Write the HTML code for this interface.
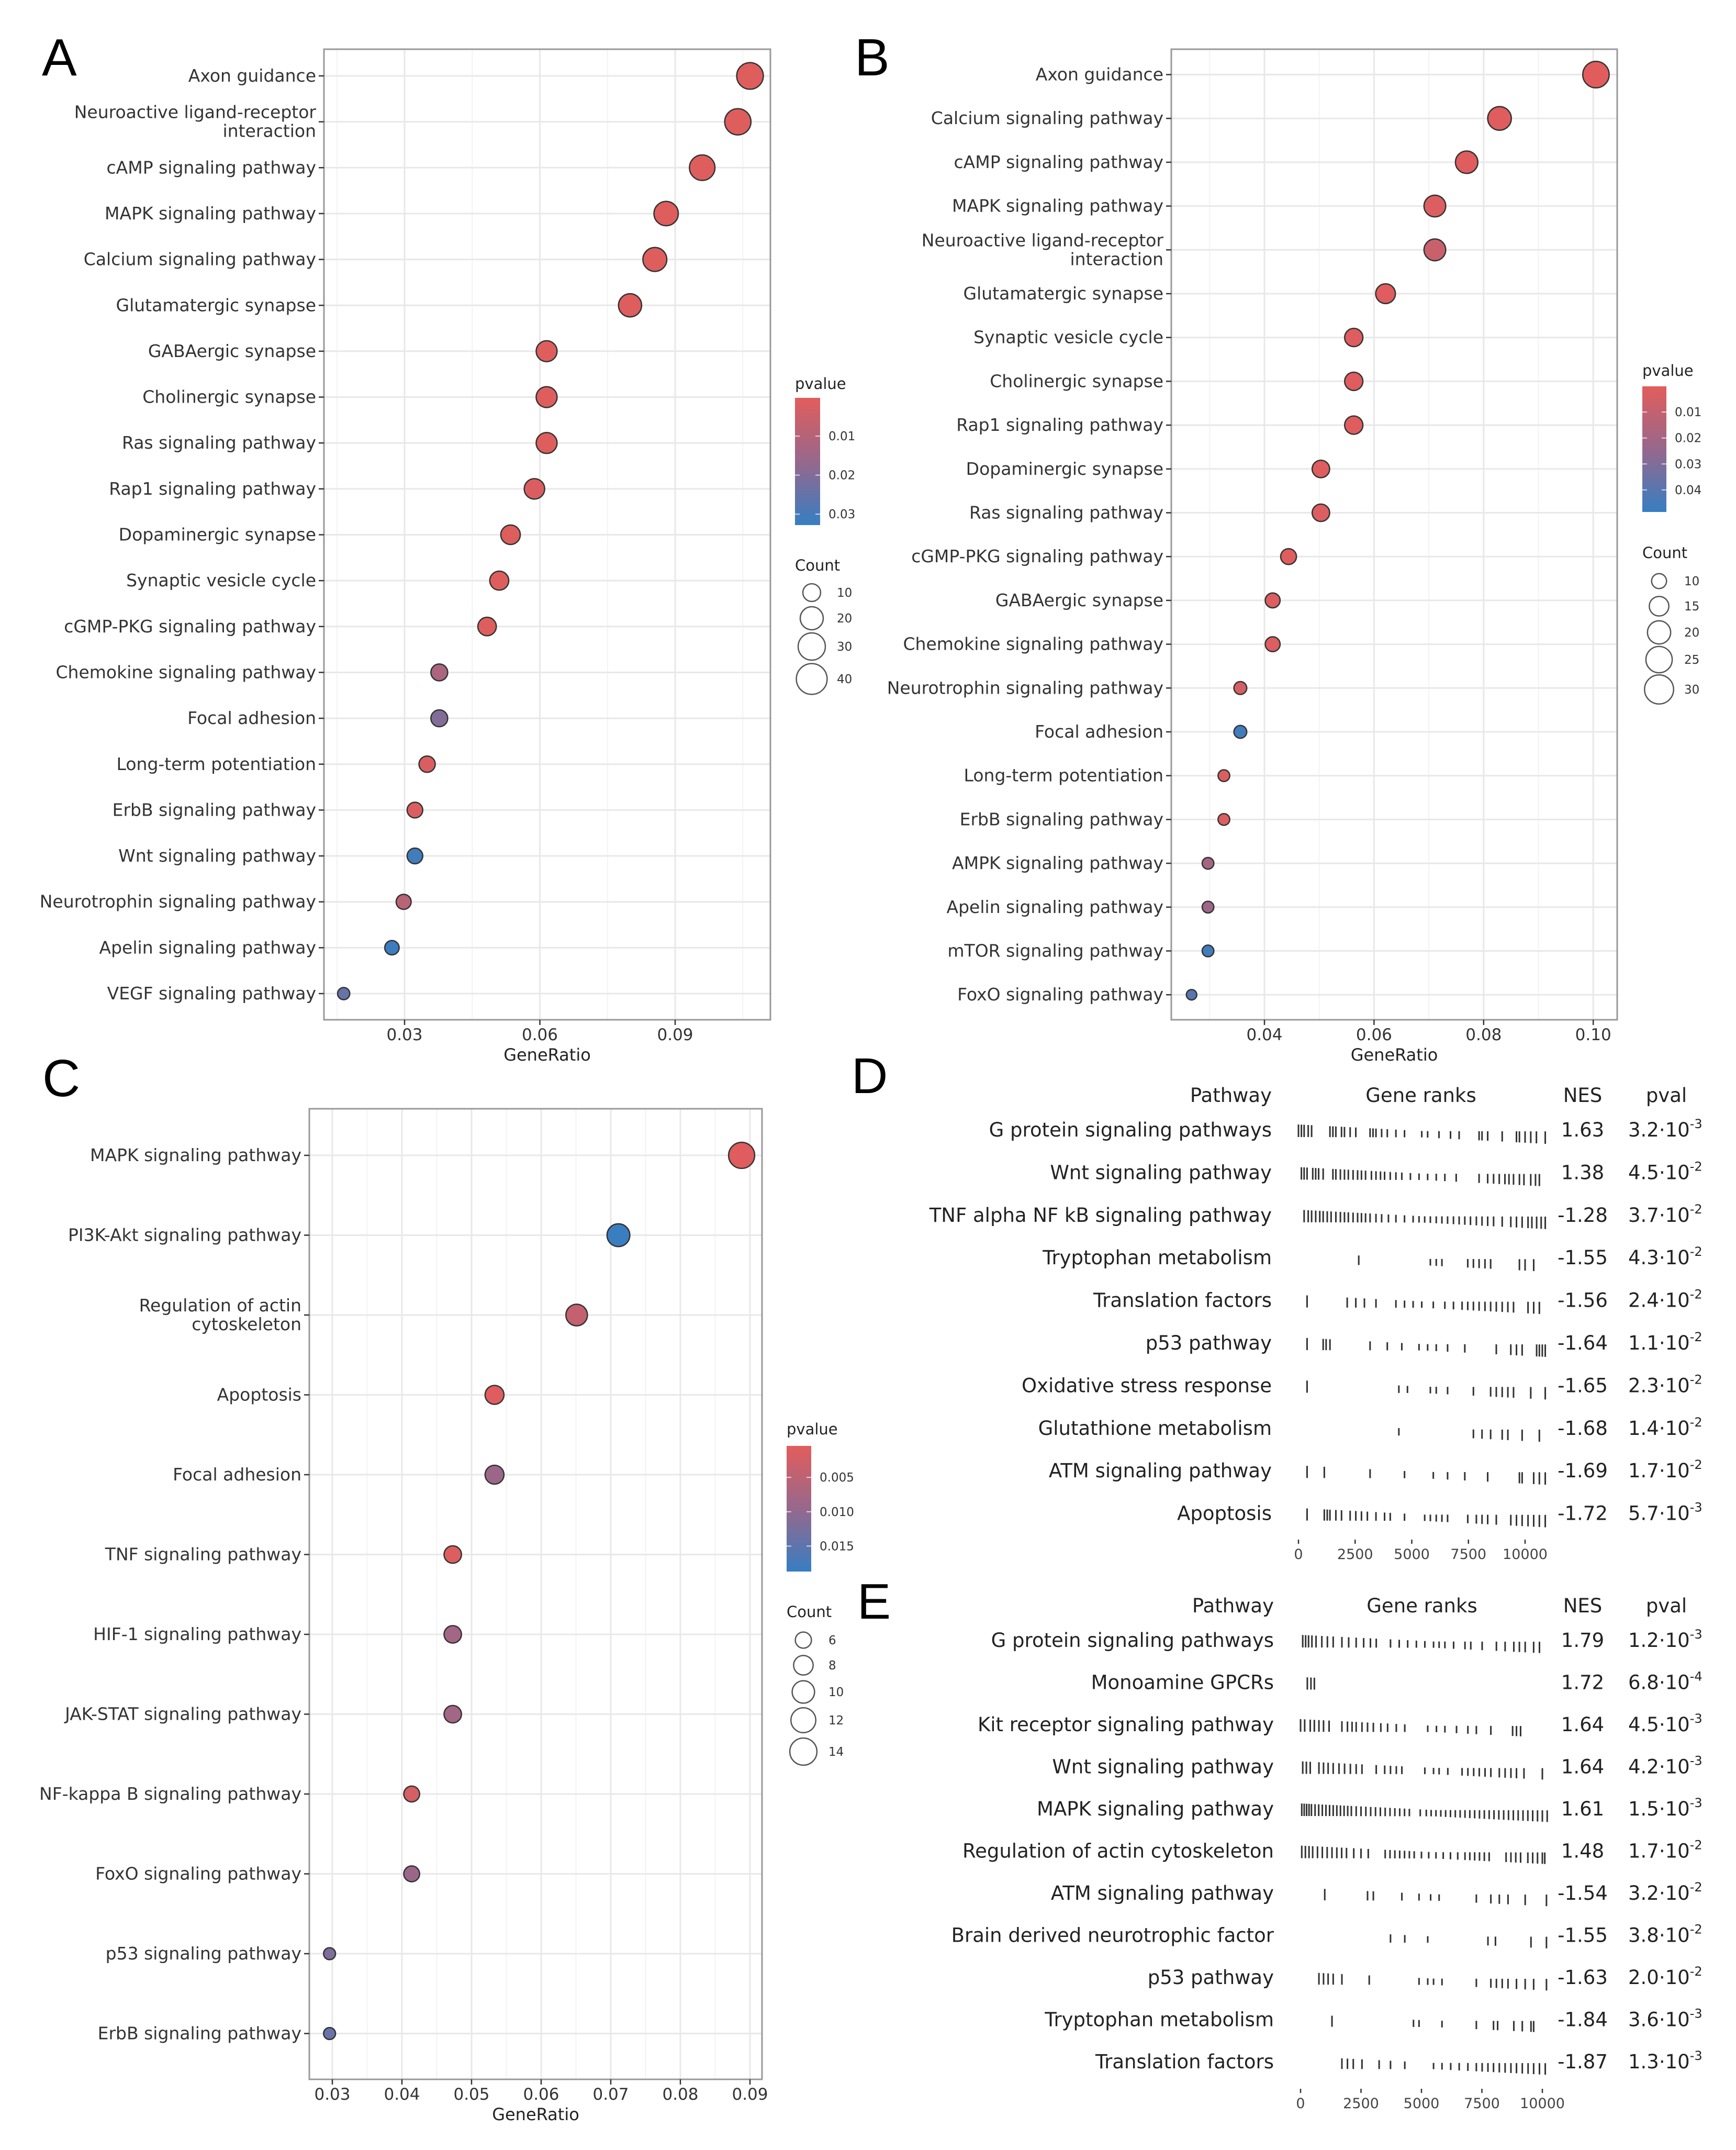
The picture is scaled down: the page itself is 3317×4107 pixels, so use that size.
<!DOCTYPE html>
<html><head><meta charset="utf-8">
<style>
html,body{margin:0;padding:0;background:#fff;}
svg{display:block;}
text{font-family:"DejaVu Sans","Liberation Sans",sans-serif;}
</style></head>
<body>
<svg id="fig" xmlns="http://www.w3.org/2000/svg" width="3317" height="4107" viewBox="0 0 3317 4107">
<rect x="0" y="0" width="3317" height="4107" fill="#fff"/>
<defs>
<linearGradient id="pgrad" x1="0" y1="0" x2="0" y2="1">
<stop offset="0" stop-color="rgb(226,93,92)"/>
<stop offset="0.5" stop-color="rgb(150,104,140)"/>
<stop offset="1" stop-color="rgb(55,126,194)"/>
</linearGradient>
</defs>
<text x="80" y="144" font-size="100" style="font-family:'Liberation Sans',sans-serif">A</text>
<text x="1633" y="144" font-size="100" style="font-family:'Liberation Sans',sans-serif">B</text>
<text x="81" y="2094" font-size="100" style="font-family:'Liberation Sans',sans-serif">C</text>
<text x="1627" y="2088" font-size="96" style="font-family:'Liberation Sans',sans-serif">D</text>
<text x="1638" y="3092" font-size="96" style="font-family:'Liberation Sans',sans-serif">E</text>
</svg>
<script>
// ---------- Panel A data ----------
const A_terms = ["Axon guidance","Neuroactive ligand-receptor\ninteraction","cAMP signaling pathway","MAPK signaling pathway","Calcium signaling pathway","Glutamatergic synapse","GABAergic synapse","Cholinergic synapse","Ras signaling pathway","Rap1 signaling pathway","Dopaminergic synapse","Synaptic vesicle cycle","cGMP-PKG signaling pathway","Chemokine signaling pathway","Focal adhesion","Long-term potentiation","ErbB signaling pathway","Wnt signaling pathway","Neurotrophin signaling pathway","Apelin signaling pathway","VEGF signaling pathway"];
const A_ratio = [0.1066,0.1039,0.0960,0.0880,0.0855,0.0800,0.0615,0.0615,0.0615,0.0588,0.0535,0.0510,0.0483,0.0377,0.0377,0.0350,0.0323,0.0323,0.0298,0.0272,0.0165];
const A_count = [34,33,31,28,27,25,20,20,20,19,17,16,15,12,12,11,10,10,9,8,5];
const A_p = [0.001,0.001,0.001,0.001,0.001,0.001,0.001,0.001,0.001,0.002,0.001,0.001,0.001,0.012,0.020,0.002,0.002,0.031,0.009,0.032,0.025];
const A_ticks = [0.03,0.06,0.09];
const A_tickLabels = ["0.03","0.06","0.09"];
const A_minor = [0.015,0.045,0.075,0.105];
const A_pBreaks = [0.01,0.02,0.03];
const A_pLabels = ["0.01","0.02","0.03"];
const A_cBreaks = [10,20,30,40];

// ---------- Panel B data ----------
const B_terms = ["Axon guidance","Calcium signaling pathway","cAMP signaling pathway","MAPK signaling pathway","Neuroactive ligand-receptor\ninteraction","Glutamatergic synapse","Synaptic vesicle cycle","Cholinergic synapse","Rap1 signaling pathway","Dopaminergic synapse","Ras signaling pathway","cGMP-PKG signaling pathway","GABAergic synapse","Chemokine signaling pathway","Neurotrophin signaling pathway","Focal adhesion","Long-term potentiation","ErbB signaling pathway","AMPK signaling pathway","Apelin signaling pathway","mTOR signaling pathway","FoxO signaling pathway"];
const B_ratio = [0.1005,0.0829,0.0769,0.0711,0.0711,0.0621,0.0563,0.0563,0.0563,0.0503,0.0503,0.0444,0.0415,0.0415,0.0356,0.0356,0.0326,0.0326,0.0297,0.0297,0.0297,0.0267];
const B_count = [29,24,22,21,21,18,16,16,16,15,15,13,12,12,10,10,9,9,9,9,9,8];
const B_p = [0.0005,0.001,0.001,0.002,0.008,0.001,0.001,0.001,0.001,0.001,0.002,0.001,0.002,0.002,0.004,0.046,0.002,0.002,0.020,0.022,0.046,0.040];
const B_ticks = [0.04,0.06,0.08,0.10];
const B_tickLabels = ["0.04","0.06","0.08","0.10"];
const B_minor = [0.03,0.05,0.07,0.09];
const B_pBreaks = [0.01,0.02,0.03,0.04];
const B_pLabels = ["0.01","0.02","0.03","0.04"];
const B_cBreaks = [10,15,20,25,30];

// ---------- Panel C data ----------
const C_terms = ["MAPK signaling pathway","PI3K-Akt signaling pathway","Regulation of actin\ncytoskeleton","Apoptosis","Focal adhesion","TNF signaling pathway","HIF-1 signaling pathway","JAK-STAT signaling pathway","NF-kappa B signaling pathway","FoxO signaling pathway","p53 signaling pathway","ErbB signaling pathway"];
const C_ratio = [0.0888,0.0711,0.0651,0.0533,0.0533,0.0473,0.0473,0.0473,0.0414,0.0414,0.0296,0.0296];
const C_count = [15,12,11,9,9,8,8,8,7,7,5,5];
const C_p = [0.0008,0.0185,0.004,0.0008,0.009,0.001,0.008,0.008,0.002,0.009,0.012,0.014];
const C_ticks = [0.03,0.04,0.05,0.06,0.07,0.08,0.09];
const C_tickLabels = ["0.03","0.04","0.05","0.06","0.07","0.08","0.09"];
const C_minor = [0.035,0.045,0.055,0.065,0.075,0.085];
const C_pBreaks = [0.005,0.010,0.015];
const C_pLabels = ["0.005","0.010","0.015"];
const C_cBreaks = [6,8,10,12,14];

// ---------- Panel D data ----------
const D_paths = ["G protein signaling pathways","Wnt signaling pathway","TNF alpha NF kB signaling pathway","Tryptophan metabolism","Translation factors","p53 pathway","Oxidative stress response","Glutathione metabolism","ATM signaling pathway","Apoptosis"];
const D_nes = ["1.63","1.38","-1.28","-1.55","-1.56","-1.64","-1.65","-1.68","-1.69","-1.72"];
const D_pmant = ["3.2","4.5","3.7","4.3","2.4","1.1","2.3","1.4","1.7","5.7"];
const D_pexp = ["-3","-2","-2","-2","-2","-2","-2","-2","-2","-3"];
const D_ranks = [
[0,0.13,0.25,0.43,0.58,1.39,1.52,1.65,1.9,2.03,2.28,2.53,3.16,3.29,3.42,3.67,3.92,4.3,4.68,5.44,5.7,6.2,6.71,7.09,7.97,8.1,8.35,8.99,9.62,9.75,10.0,10.25,10.5,10.89],
[0.13,0.25,0.38,0.63,0.76,0.89,1.09,1.52,1.65,1.85,2.03,2.2,2.41,2.61,2.78,2.96,3.22,3.42,3.62,3.8,4.05,4.3,4.56,4.94,5.32,5.7,6.08,6.46,6.96,7.97,8.35,8.61,8.86,9.11,9.29,9.49,9.75,9.95,10.25,10.46,10.63],
[0.25,0.43,0.58,0.76,0.94,1.09,1.27,1.44,1.65,1.85,2.03,2.2,2.41,2.61,2.78,2.96,3.16,3.42,3.67,3.97,4.3,4.68,5.06,5.32,5.57,5.82,6.08,6.33,6.58,6.84,7.09,7.34,7.59,7.85,8.1,8.35,8.61,8.99,9.37,9.62,9.87,10.13,10.3,10.51,10.71,10.89],
[2.66,5.82,6.08,6.33,7.47,7.72,7.97,8.23,8.48,9.75,10.0,10.38],
[0.38,2.15,2.53,2.91,3.42,4.3,4.68,5.06,5.44,5.95,6.46,6.84,7.22,7.47,7.72,7.97,8.23,8.48,8.73,8.99,9.24,9.49,10.13,10.38,10.63],
[0.38,1.09,1.22,1.39,3.16,3.92,4.56,5.32,5.7,6.08,6.58,7.34,8.73,9.37,9.62,9.87,10.51,10.63,10.76,10.89],
[0.38,4.43,4.81,5.82,6.08,6.58,7.72,8.48,8.73,8.99,9.24,9.49,10.25,10.89],
[4.43,7.72,8.1,8.48,8.99,9.24,9.87,10.63],
[0.38,1.14,3.16,4.68,5.95,6.58,7.34,8.35,9.75,9.87,10.38,10.63,10.89],
[0.38,1.14,1.27,1.39,1.65,1.9,2.28,2.53,2.78,3.04,3.42,3.8,4.05,4.68,5.57,5.82,6.08,6.33,6.58,7.47,7.85,8.1,8.35,8.73,9.37,9.62,9.87,10.13,10.38,10.63,10.89]
];
const D_axisTicks = [0,2.5,5,7.5,10];
const D_axisLabels = ["0","2500","5000","7500","10000"];

// ---------- Panel E data ----------
const E_paths = ["G protein signaling pathways","Monoamine GPCRs","Kit receptor signaling pathway","Wnt signaling pathway","MAPK signaling pathway","Regulation of actin cytoskeleton","ATM signaling pathway","Brain derived neurotrophic factor","p53 pathway","Tryptophan metabolism","Translation factors"];
const E_nes = ["1.79","1.72","1.64","1.64","1.61","1.48","-1.54","-1.55","-1.63","-1.84","-1.87"];
const E_pmant = ["1.2","6.8","4.5","4.2","1.5","1.7","3.2","3.8","2.0","3.6","1.3"];
const E_pexp = ["-3","-4","-3","-3","-3","-2","-2","-2","-2","-3","-3"];
const E_ranks = [
[0.09,0.21,0.33,0.47,0.64,0.88,1.11,1.35,1.71,1.99,2.3,2.61,2.89,3.13,3.72,4.08,4.43,4.79,5.14,5.5,5.73,5.97,6.33,6.8,7.04,7.51,8.1,8.46,8.82,9.05,9.29,9.64,9.88],
[0.28,0.43,0.57],
[0,0.17,0.4,0.57,0.76,0.95,1.18,1.71,1.94,2.13,2.3,2.54,2.77,3.01,3.32,3.6,3.96,4.31,5.26,5.62,5.97,6.45,6.92,7.27,7.87,8.77,8.93,9.1],
[0.09,0.24,0.4,0.76,0.95,1.14,1.35,1.59,1.82,2.06,2.3,2.54,3.13,3.48,3.72,3.96,4.19,5.14,5.5,5.73,6.09,6.68,6.92,7.16,7.39,7.63,7.87,8.22,8.46,8.7,8.93,9.24,10.0],
[0.05,0.15,0.25,0.35,0.45,0.6,0.75,0.9,1.05,1.2,1.35,1.5,1.65,1.8,1.95,2.1,2.3,2.5,2.7,2.9,3.1,3.3,3.5,3.7,3.9,4.1,4.3,4.5,4.95,5.2,5.4,5.6,5.8,6.0,6.2,6.4,6.6,6.8,7.0,7.2,7.4,7.6,7.8,8.0,8.2,8.4,8.6,8.8,9.0,9.2,9.4,9.6,9.8,10.0,10.2],
[0.05,0.2,0.35,0.5,0.7,0.9,1.1,1.3,1.5,1.7,1.9,2.2,2.5,2.8,3.5,3.7,3.9,4.1,4.3,4.5,4.7,5.0,5.3,5.6,5.9,6.2,6.5,6.8,7.0,7.2,7.4,7.6,7.8,8.5,8.7,8.9,9.1,9.4,9.6,9.8,10.0,10.1],
[1.0,2.77,3.01,4.19,4.9,5.38,5.73,7.27,7.87,8.22,8.58,9.29,10.17],
[3.72,4.31,5.26,7.75,8.06,9.53,10.17],
[0.76,0.95,1.14,1.35,1.71,2.84,4.9,5.26,5.5,5.85,7.27,7.87,8.1,8.34,8.58,8.93,9.29,9.64,10.17],
[1.3,4.67,4.9,5.85,7.27,7.98,8.15,8.82,9.17,9.53,9.64],
[1.71,1.94,2.18,2.54,3.25,3.72,4.31,5.5,5.85,6.21,6.56,6.92,7.27,7.51,7.75,7.98,8.22,8.46,8.7,8.93,9.17,9.41,9.64,9.88,10.12]
];
const E_axisTicks = [0,2.5,5,7.5,10];
const E_axisLabels = ["0","2500","5000","7500","10000"];

const NS = "http://www.w3.org/2000/svg";
const svg = document.getElementById('fig');
function mk(tag, attrs, parent) {
  const e = document.createElementNS(NS, tag);
  for (const k in attrs) e.setAttribute(k, attrs[k]);
  (parent || svg).appendChild(e);
  return e;
}
function pColor(p, pmin, pmax) {
  let t = (p - pmin) / (pmax - pmin);
  t = Math.max(0, Math.min(1, t));
  let r, g, b;
  if (t < 0.5) { const u = t / 0.5; r = 226 + (150 - 226) * u; g = 93 + (104 - 93) * u; b = 92 + (140 - 92) * u; }
  else { const u = (t - 0.5) / 0.5; r = 150 + (55 - 150) * u; g = 104 + (126 - 104) * u; b = 140 + (194 - 140) * u; }
  return `rgb(${Math.round(r)},${Math.round(g)},${Math.round(b)})`;
}

function dotPlot(prefix, terms, ratio, count, pv, ticks, tickLabels, minor, pBreaks, pLabels, cBreaks, G) {
  const g = mk('g', {});
  
  
  const xs = v => G.xRef + (v - G.vRef) * G.ppu;
  const ys = i => G.y0 + i * G.dy;
  const rad = c => Math.sqrt(Math.max(20, G.A0 + G.k * c));
  minor.forEach(v => {
    const l = mk('line', {x1: xs(v), x2: xs(v), y1: G.top, y2: G.bottom, stroke: '#f3f3f3', 'stroke-width': 2}, g);
    
    
  });
  ticks.forEach(v => {
    const l = mk('line', {x1: xs(v), x2: xs(v), y1: G.top, y2: G.bottom, stroke: '#e8e8e8', 'stroke-width': 3}, g);
    
    
  });
  terms.forEach((t, i) => {
    const l = mk('line', {x1: G.left, x2: G.right, y1: ys(i), y2: ys(i), stroke: '#e8e8e8', 'stroke-width': 3}, g);
    
    
  });
  const box = mk('rect', {x: G.left, y: G.top, width: G.right - G.left, height: G.bottom - G.top, fill: 'none', stroke: '#999', 'stroke-width': 3}, g);
  
  
  terms.forEach((t, i) => {
    const y = ys(i);
    mk('line', {x1: G.left - 10, x2: G.left, y1: y, y2: y, stroke: '#333', 'stroke-width': 2.5}, g);
    const lines = t.split('\n');
    const tx = mk('text', {x: G.left - 15, y: y, 'text-anchor': 'end', 'font-size': 33, fill: '#333'}, g);
    
    
    lines.forEach((ln, j) => {
      const off = (j - (lines.length - 1) / 2) * 36 + 11;
      const ts = mk('tspan', {x: G.left - 15, y: y + off}, tx);
      ts.textContent = ln;
    });
  });
  ticks.forEach((v, i) => {
    mk('line', {x1: xs(v), x2: xs(v), y1: G.bottom, y2: G.bottom + 10, stroke: '#333', 'stroke-width': 2.5}, g);
    const tx = mk('text', {x: xs(v), y: G.bottom + 39, 'text-anchor': 'middle', 'font-size': 31, fill: '#333'}, g);
    
    
    tx.textContent = tickLabels[i];
  });
  const xt = mk('text', {x: (G.left + G.right) / 2, y: G.bottom + 78, 'text-anchor': 'middle', 'font-size': 32, fill: '#222'}, g);
  
  
  xt.textContent = 'GeneRatio';
  terms.forEach((t, i) => {
    const c = mk('circle', {cx: xs(ratio[i]), cy: ys(i), r: rad(count[i]), fill: pColor(pv[i], G.pmin, G.pmax), stroke: '#333', 'stroke-width': 2.5}, g);
    
    
  });
  const lt = mk('text', {x: G.lx, y: G.ltY, 'font-size': 29, fill: '#222'}, g);
  
  
  lt.textContent = 'pvalue';
  const cb = mk('rect', {x: G.lx, y: G.cbTop, width: G.cbW, height: G.cbBot - G.cbTop, fill: 'url(#pgrad)'}, g);
  
  
  const cy = p => G.cbTop + (p - G.pmin) / (G.pmax - G.pmin) * (G.cbBot - G.cbTop);
  pBreaks.forEach((p, i) => {
    mk('line', {x1: G.lx, x2: G.lx + 9, y1: cy(p), y2: cy(p), stroke: '#fff', 'stroke-width': 2, opacity: 0.7}, g);
    mk('line', {x1: G.lx + G.cbW - 9, x2: G.lx + G.cbW, y1: cy(p), y2: cy(p), stroke: '#fff', 'stroke-width': 2, opacity: 0.7}, g);
    const tx = mk('text', {x: G.lx + G.cbW + 16, y: cy(p) + 8, 'font-size': 23, fill: '#333'}, g);
    
    
    tx.textContent = pLabels[i];
  });
  const ct = mk('text', {x: G.lx, y: G.ctY, 'font-size': 29, fill: '#222'}, g);
  
  
  ct.textContent = 'Count';
  cBreaks.forEach((c, i) => {
    const r = rad(c) + 2;
    const yy = G.keyY[i];
    const ci = mk('circle', {cx: G.lx + 32, cy: yy, r: r, fill: 'none', stroke: '#555', 'stroke-width': 2.5}, g);
    
    
    const tx = mk('text', {x: G.lx + 80, y: yy + 8, 'font-size': 23, fill: '#333'}, g);
    
    
    tx.textContent = String(c);
  });
}

dotPlot('panel-a', A_terms, A_ratio, A_count, A_p, A_ticks, A_tickLabels, A_minor, A_pBreaks, A_pLabels, A_cBreaks,
  {left: 619, right: 1472, top: 94, bottom: 1948, xRef: 773, vRef: 0.03, ppu: 8617, y0: 145, dy: 87.65, A0: 47, k: 17.6,
   pmin: 0.0002, pmax: 0.0328, lx: 1519, ltY: 743, cbTop: 760, cbBot: 1003, cbW: 48, ctY: 1090, keyY: [1132,1181,1235,1297]});
dotPlot('panel-b', B_terms, B_ratio, B_count, B_p, B_ticks, B_tickLabels, B_minor, B_pBreaks, B_pLabels, B_cBreaks,
  {left: 2238, right: 3090, top: 94, bottom: 1948, xRef: 2416, vRef: 0.04, ppu: 10470, y0: 142.5, dy: 83.7, A0: -106, k: 25.6,
   pmin: 0.0001, pmax: 0.0485, lx: 3138, ltY: 718, cbTop: 738, cbBot: 978, cbW: 46, ctY: 1066, keyY: [1110,1158,1208,1260,1317]});
dotPlot('panel-c', C_terms, C_ratio, C_count, C_p, C_ticks, C_tickLabels, C_minor, C_pBreaks, C_pLabels, C_cBreaks,
  {left: 591, right: 1456, top: 2118, bottom: 3972, xRef: 635, vRef: 0.03, ppu: 13300, y0: 2207, dy: 152.5, A0: -115, k: 49,
   pmin: 0.00042, pmax: 0.0187, lx: 1503, ltY: 2740, cbTop: 2762, cbBot: 3002, cbW: 47, ctY: 3089, keyY: [3133,3181,3232,3286,3346]});

function gseaTable(prefix, paths, nes, pmant, pexp, ranks, axTicks, axLabels, G) {
  const g = mk('g', {});
  
  
  const xs = k => G.x0 + k * G.ppk;
  const ys = i => G.y0 + i * G.dy;
  const hdr = [['Pathway', G.pathRight, 'end'], ['Gene ranks', G.rankHdr, 'middle'], ['NES', G.nesX, 'middle'], ['pval', G.pvalHdr, 'middle']];
  hdr.forEach(h => {
    const t = mk('text', {x: h[1], y: G.hdrY + 13, 'text-anchor': h[2], 'font-size': 37, fill: '#222'}, g);
    
    
    t.textContent = h[0];
  });
  paths.forEach((p, i) => {
    const y = ys(i);
    const t = mk('text', {x: G.pathRight, y: y + 13, 'text-anchor': 'end', 'font-size': 37, fill: '#222'}, g);
    
    
    t.textContent = p;
    ranks[i].forEach(k => {
      const h = 12 + 12 * Math.abs(k - 5.5) / 5.5;
      const c = y + 2 + k * 1.2;
      const b = mk('line', {x1: xs(k), x2: xs(k), y1: c - h / 2, y2: c + h / 2, stroke: '#333', 'stroke-width': 3}, g);
      
      
    });
    const n = mk('text', {x: G.nesX, y: y + 13, 'text-anchor': 'middle', 'font-size': 37, fill: '#222'}, g);
    
    
    n.textContent = nes[i];
    const pv = mk('text', {x: G.pvalX, y: y + 13, 'font-size': 37, fill: '#222'}, g);
    
    
    const s1 = mk('tspan', {}, pv);
    s1.textContent = pmant[i] + '\u00b710';
    const s2 = mk('tspan', {dy: -16, 'font-size': 24}, pv);
    s2.textContent = pexp[i];
  });
  axTicks.forEach((k, i) => {
    mk('line', {x1: xs(k), x2: xs(k), y1: G.axY - 28, y2: G.axY - 20, stroke: '#333', 'stroke-width': 2.5}, g);
    const t = mk('text', {x: xs(k), y: G.axY + 9, 'text-anchor': 'middle', 'font-size': 27, fill: '#444'}, g);
    
    
    t.textContent = axLabels[i];
  });
}
gseaTable('panel-d', D_paths, D_nes, D_pmant, D_pexp, D_ranks, D_axisTicks, D_axisLabels,
  {x0: 2481, ppk: 43.3, y0: 2158, dy: 81.4, hdrY: 2092, pathRight: 2430, rankHdr: 2715, nesX: 3024, pvalHdr: 3184, pvalX: 3111, axY: 2969});
gseaTable('panel-e', E_paths, E_nes, E_pmant, E_pexp, E_ranks, E_axisTicks, E_axisLabels,
  {x0: 2485, ppk: 46.2, y0: 3133, dy: 80.5, hdrY: 3067, pathRight: 2434, rankHdr: 2717, nesX: 3024, pvalHdr: 3184, pvalX: 3111, axY: 4018});
</script>
</body></html>
